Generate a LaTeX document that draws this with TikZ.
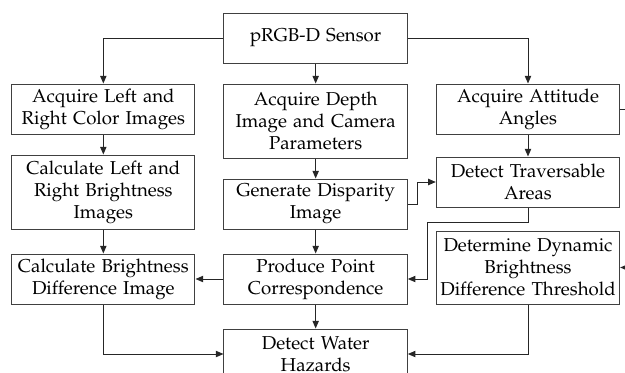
\documentclass[tikz,border=0pt]{standalone}
\usepackage[T1]{fontenc}
\usepackage{mathpazo}
\usepackage{tikz}
\usetikzlibrary{arrows.meta, positioning, calc}
\tikzset{
  flow box/.style={
    rectangle, draw=black!75, fill=white, line width=0.6pt,
    text width=108pt, minimum width=110pt, minimum height=30pt,
    text centered, font=\fontsize{11.2}{13.2}\selectfont,
    inner sep=1pt
  },
  flow arrow/.style={
    -{Triangle[length=4.6pt,width=3.8pt]}, line width=0.6pt, draw=black!85
  }
}

\begin{document}
\begin{tikzpicture}[node distance=12pt and 16.8pt, align=center]
  \useasboundingbox (-189.4pt,22.8pt) rectangle ++(375pt,-223.2pt);
  % Top: sensor, then three columns
  \node (sensor) [flow box] at (0,0) {pRGB-D Sensor};
  \node (depth) [flow box, below=of sensor, minimum height=44.4pt] {Acquire Depth\\Image and Camera\\Parameters};
  \node (colors) [flow box, below left=of sensor.south west] {Acquire Left and\\Right Color Images};
  \node (attitude) [flow box, below right=of sensor.south east] {Acquire Attitude\\Angles};
  % Row 2
  \node (bright) [flow box, below=of colors, minimum height=44.4pt] {Calculate Left and\\Right Brightness\\Images};
  \node (disparity) [flow box, below=of depth] {Generate Disparity\\Image};
  \node (travers) [flow box, below=13.2pt of attitude] {Detect Traversable\\Areas};
  % Row 3
  \node (diff) [flow box, below=14.4pt of bright] {Calculate Brightness\\Difference Image};
  \node (corresp) [flow box, below=14.4pt of disparity] {Produce Point\\Correspondence};
  \node (threshold) [flow box, below=13.8pt of travers, minimum height=43.8pt] {Determine Dynamic\\Brightness\\Difference Threshold};
  % Bottom
  \node (water) [flow box, below=14.4pt of corresp] {Detect Water\\Hazards};

  \draw [flow arrow] (sensor.west) -| (colors.north);
  \draw [flow arrow] (sensor) -- (depth);
  \draw [flow arrow] (sensor.east) -| (attitude.north);
  \draw [flow arrow] (colors) -- (bright);
  \draw [flow arrow] (bright) -- (diff);
  \draw [flow arrow] (depth) -- (disparity);
  \draw [flow arrow] (disparity) -- (corresp);
  \draw [flow arrow] (corresp) -- (water);
  \draw [flow arrow] (attitude) -- (travers);
  \draw [flow arrow] (corresp) -- (diff);
  \draw [flow arrow] (disparity.east) -- ++(6pt,0) |- (travers.west);
  \draw [flow arrow] (travers.south) -- ++(0,-9pt) -| ($(corresp.east)+(12pt,0)$) -- (corresp.east);
  \draw [flow arrow] (attitude.east) -- ++(10pt,0) |- (threshold.east);
  \draw [flow arrow] (diff.south) |- (water.west);
  \draw [flow arrow] (threshold.south) |- (water.east);
\end{tikzpicture}
\end{document}
